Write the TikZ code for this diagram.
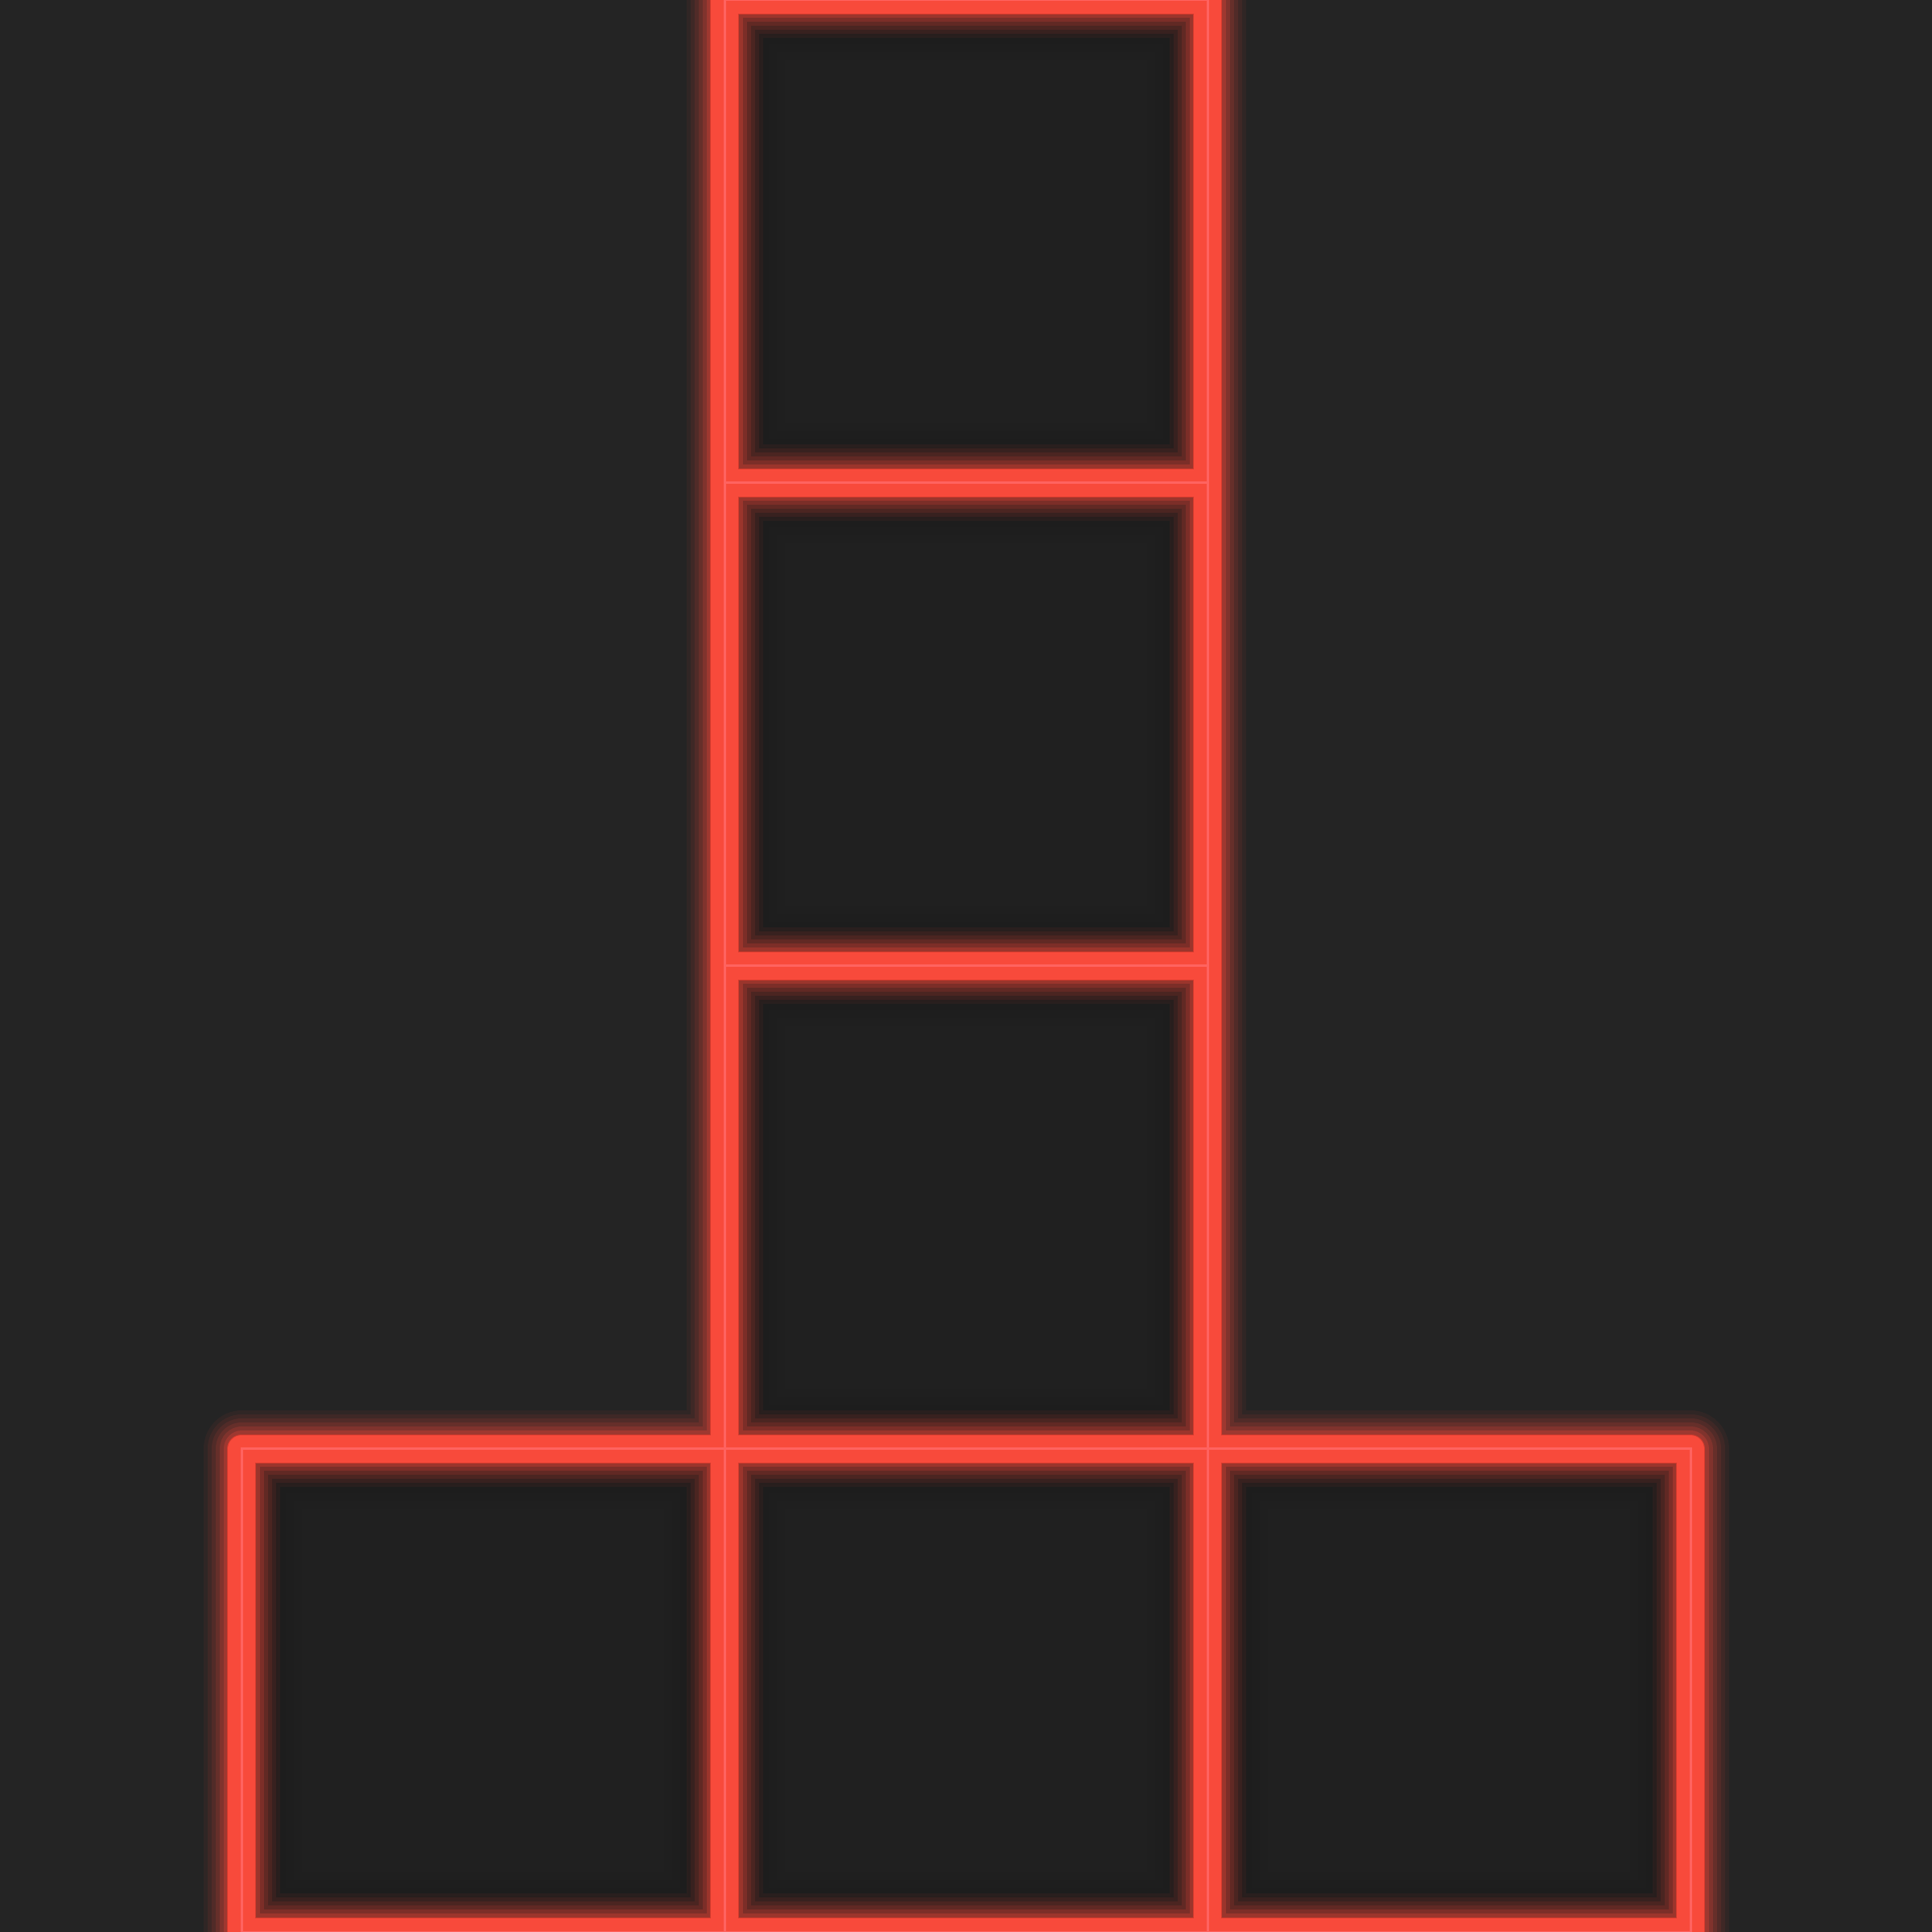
\documentclass[tikz,border=0pt]{standalone}
\definecolor{bgdark}{HTML}{242424}
\definecolor{celldark}{HTML}{1C1C1C}
\definecolor{neon}{HTML}{F84A3B}
\definecolor{neonedge}{HTML}{D23A2E}
\definecolor{neonlight}{HTML}{FF6360}
\tikzset{
  band/.style={draw=neon, line width=0.34cm, line join=round},
  seam/.style={draw=neonlight, line width=0.03cm},
}
\begin{document}
\begin{tikzpicture}
\fill[bgdark] (0,0) rectangle (24,24);
\useasboundingbox (0,0) rectangle (24,24);
% lower left corners of the cells
\def\cells{9/18, 9/12, 9/6, 3/0, 9/0, 15/0}
\foreach \x/\y in \cells {
  \fill[celldark] (\x,\y) rectangle ++(6,6);
  \foreach \d in {0.45,0.55,...,1.45}
    \fill[bgdark, opacity=0.2] (\x+\d,\y+\d) rectangle (\x+6-\d,\y+6-\d);
}
% glow, one path for all cells
\foreach \w/\o in {0.95/0.06, 0.85/0.08, 0.75/0.10, 0.65/0.13, 0.55/0.18, 0.45/0.25}
  \draw[neon, line width=\w cm, draw opacity=\o, line join=round]
    \foreach \x/\y in \cells {(\x,\y) rectangle ++(6,6)};
\draw[draw=neonedge, line width=0.36cm, line join=round]
  \foreach \x/\y in \cells {(\x,\y) rectangle ++(6,6)};
\draw[band] \foreach \x/\y in \cells {(\x,\y) rectangle ++(6,6)};
\draw[seam] \foreach \x/\y in \cells {(\x,\y) rectangle ++(6,6)};
\end{tikzpicture}
\end{document}
